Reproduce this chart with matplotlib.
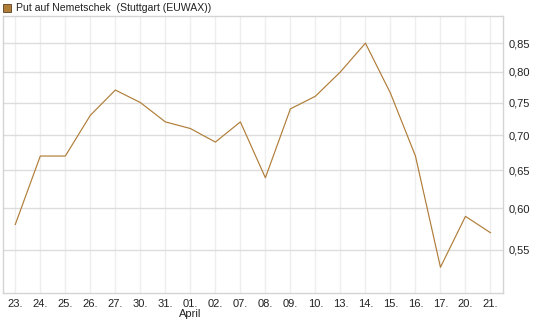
import matplotlib
matplotlib.use("Agg")
import matplotlib.pyplot as plt
from matplotlib.patches import Rectangle
from matplotlib.ticker import FixedLocator, FixedFormatter, NullLocator

plt.rcParams['font.family'] = ['Liberation Sans', 'DejaVu Sans']

# data
days = ["23.", "24.", "25.", "26.", "27.", "30.", "31.", "01.\nApril", "02.", "07.",
        "08.", "09.", "10.", "13.", "14.", "15.", "16.", "17.", "20.", "21."]
prices = [0.58, 0.67, 0.67, 0.73, 0.77, 0.75, 0.72, 0.71, 0.69, 0.72,
          0.64, 0.74, 0.76, 0.80, 0.85, 0.765, 0.67, 0.53, 0.59, 0.57]
yticks = [0.55, 0.60, 0.65, 0.70, 0.75, 0.80, 0.85]
ytick_labels = ["0,55", "0,60", "0,65", "0,70", "0,75", "0,80", "0,85"]

line_color = "#b07d38"

fig = plt.figure(figsize=(5.45, 3.27), dpi=100)
ax = fig.add_axes([0.0051, 0.104, 0.9178, 0.847])

x = list(range(len(prices)))
ax.plot(x, prices, color=line_color, linewidth=0.85)

ax.set_yscale('log')
ax.set_ylim(0.502, 0.90)
ax.set_xlim(-0.5, len(prices) - 0.5)

ax.yaxis.set_major_locator(FixedLocator(yticks))
ax.yaxis.set_major_formatter(FixedFormatter(ytick_labels))
ax.yaxis.set_minor_locator(NullLocator())
ax.yaxis.tick_right()
ax.set_xticks(x)
ax.set_xticklabels(days, linespacing=1.1)

ax.tick_params(axis='both', length=0, labelsize=8, colors='#222222')
ax.tick_params(axis='y', pad=4)
ax.tick_params(axis='x', pad=4)

ax.grid(axis='y', color='#dddddd', linewidth=1)
ax.grid(axis='x', color='#eeeeee', linewidth=1)
ax.set_axisbelow(True)
for s in ax.spines.values():
    s.set_color('#d4d4d4')
    s.set_linewidth(1)

# legend swatch + title text
fig.patches.append(Rectangle((3 / 545, 1 - 12 / 327), 8 / 545, 8 / 327,
                             transform=fig.transFigure, facecolor=line_color,
                             edgecolor='#5a4020', linewidth=0.6))
fig.text(16 / 545, 1 - 8 / 327, "Put auf Nemetschek  (Stuttgart (EUWAX))",
         fontsize=7.6, va='center', ha='left', color='#222222')

fig.savefig("out.png", dpi=100)
